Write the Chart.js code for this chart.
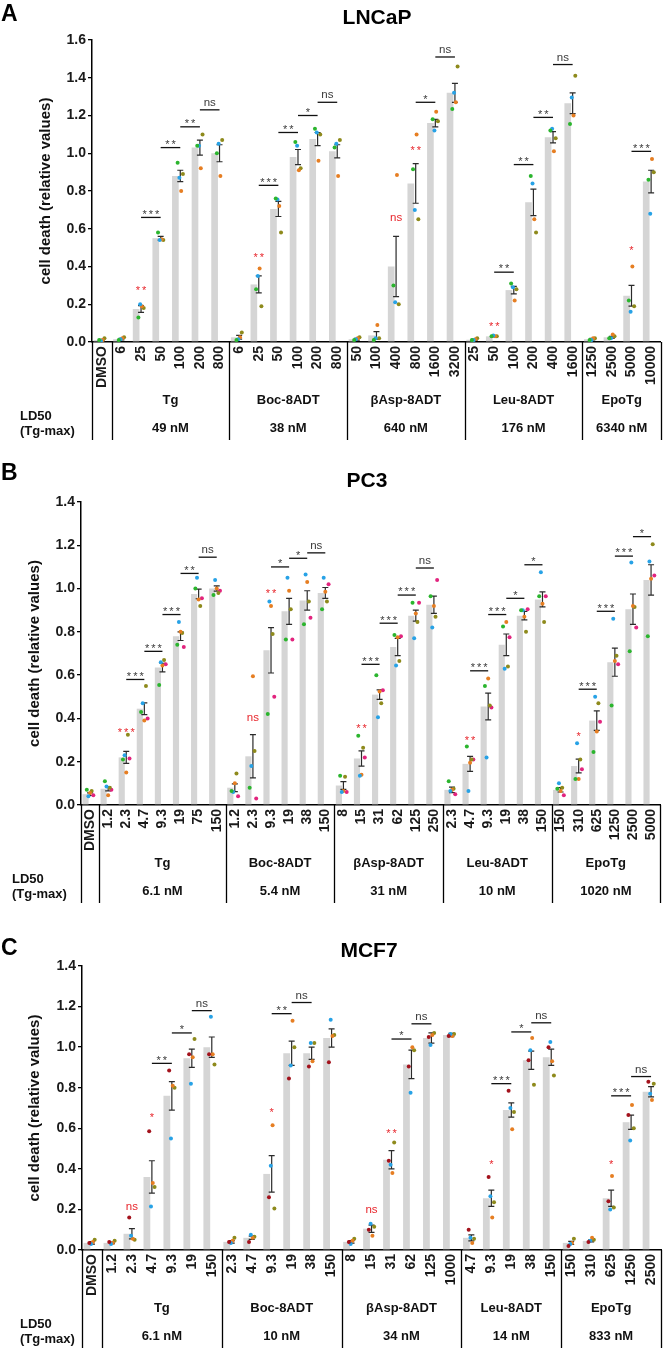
<!DOCTYPE html>
<html>
<head>
<meta charset="utf-8">
<script src="https://cdn.jsdelivr.net/npm/chart.js@4.4.1/dist/chart.umd.min.js"></script>
<style>
body{margin:0;background:#fff;}
#wrap{position:relative;width:672px;height:1350px;}
canvas{position:absolute;left:0;}
</style>
</head>
<body>
<div id="wrap">
<canvas id="cA" width="672" height="445" style="top:0px"></canvas>
<canvas id="cB" width="672" height="460" style="top:445px"></canvas>
<canvas id="cC" width="672" height="445" style="top:905px"></canvas>
</div>
<script>
// ---------- A: LNCaP ----------
const catsA = ['DMSO','6','25','50','100','200','800','6','25','50','100','200','800','50','100','400','800','1600','3200','25','50','100','200','400','1600','1250','2500','5000','10000'];
const meanA = [0.01, 0.015,0.175,0.55,0.88,1.03,1.0, 0.025,0.305,0.705,0.98,1.075,1.01, 0.015,0.035,0.40,0.84,1.16,1.32, 0.012,0.03,0.275,0.74,1.085,1.265, 0.015,0.025,0.245,0.85];
const semA = [0.004, 0.004,0.018,0.01,0.03,0.04,0.045, 0.01,0.045,0.04,0.04,0.035,0.035, 0.005,0.02,0.16,0.105,0.02,0.05, 0.003,0.003,0.02,0.07,0.03,0.055, 0.004,0.005,0.055,0.06];
const greenA = [0.01, 0.01,0.13,0.58,0.95,1.04,1.00, 0.01,0.28,0.76,1.06,1.13,1.03, 0.01,0.01,0.30,0.915,1.18,1.235, 0.01,0.03,0.31,0.88,1.12,1.155, 0.01,0.02,0.22,0.86];
const blueA = [0.005, 0.015,0.20,0.54,0.87,1.04,1.05, 0.015,0.35,0.755,1.04,1.11,1.05, 0.015,0.02,0.21,0.70,1.12,1.32, 0.01,0.035,0.29,0.84,1.13,1.295, 0.01,0.02,0.16,0.68];
const orangeA = [0.01, 0.02,0.19,0.545,0.80,0.92,0.88, 0.025,0.39,0.72,0.91,0.96,0.88, 0.02,0.09,0.885,1.10,1.22,1.27, 0.015,0.03,0.22,0.65,1.01,1.20, 0.02,0.04,0.40,0.97];
const oliveA = [0.02, 0.025,0.18,0.54,0.89,1.10,1.07, 0.05,0.19,0.58,0.92,1.10,1.07, 0.025,0.02,0.20,0.65,1.17,1.46, 0.02,0.03,0.28,0.58,1.08,1.41, 0.02,0.03,0.19,0.90];
const groupsA = ['Tg','Boc-8ADT','βAsp-8ADT','Leu-8ADT','EpoTg'];
const groupSizeA = [6,6,6,6,4];
const ld50A = ['49 nM','38 nM','640 nM','176 nM','6340 nM'];
// [from bar, to bar, height, label]
const pairSigA = [[2,3,0.66,'***'],[3,4,1.03,'**'],[4,5,1.14,'**'],[5,6,1.23,'ns'],
  [8,9,0.83,'***'],[9,10,1.11,'**'],[10,11,1.20,'*'],[11,12,1.27,'ns'],
  [16,17,1.27,'*'],[17,18,1.51,'ns'],
  [20,21,0.37,'**'],[21,22,0.94,'**'],[22,23,1.19,'**'],[23,24,1.47,'ns'],
  [27,28,1.01,'***']];
// [bar, height, label] vs DMSO
const dmsoSigA = [[2,0.29,'**'],[8,0.46,'**'],[15,0.655,'ns'],[16,1.03,'**'],[20,0.095,'**'],[27,0.50,'*']];

// ---------- B: PC3 ----------
const catsB = ['DMSO','1.2','2.3','4.7','9.3','19','75','150','1.2','2.3','9.3','19','38','150','8','15','31','62','125','250','2.3','4.7','9.3','19','38','150','150','310','625','1250','2500','5000'];
const meanB = [0.05, 0.075,0.22,0.445,0.635,0.78,0.975,1.0, 0.08,0.225,0.715,0.895,0.945,0.98, 0.09,0.215,0.51,0.73,0.875,0.925, 0.07,0.19,0.455,0.74,0.875,0.95, 0.07,0.18,0.39,0.66,0.905,1.04];
const semB = [0.006, 0.01,0.028,0.027,0.02,0.02,0.022,0.012, 0.018,0.1,0.105,0.06,0.045,0.025, 0.018,0.035,0.022,0.04,0.025,0.04, 0.013,0.035,0.062,0.05,0.02,0.035, 0.01,0.032,0.045,0.065,0.07,0.07];
const greenB = [0.07, 0.11,0.21,0.43,0.555,0.74,1.0,0.97, 0.065,0.08,0.42,0.765,0.835,0.905, 0.135,0.32,0.60,0.785,0.935,0.965, 0.11,0.27,0.55,0.825,0.90,0.965, 0.075,0.12,0.245,0.46,0.71,0.78];
const blueB = [0.04, 0.085,0.23,0.47,0.66,0.845,1.05,1.04, 0.06,0.18,0.94,1.05,1.065,1.05, 0.06,0.135,0.405,0.645,0.77,0.82, 0.065,0.065,0.22,0.63,0.90,1.075, 0.10,0.285,0.50,0.86,1.12,1.125];
const orangeB = [0.055, 0.045,0.15,0.39,0.645,0.80,0.95,1.0, 0.10,0.595,0.92,0.99,1.03,0.985, 0.065,0.14,0.525,0.775,0.885,0.92, 0.07,0.195,0.585,0.845,0.87,0.93, 0.065,0.12,0.34,0.665,0.92,1.045];
const oliveB = [0.065, 0.08,0.325,0.55,0.67,0.795,0.92,0.98, 0.145,0.25,0.79,0.905,0.94,0.94, 0.13,0.265,0.47,0.665,0.845,0.87, 0.075,0.21,0.46,0.64,0.80,0.845, 0.08,0.21,0.47,0.69,0.915,1.205];
const magentaB = [0.045, 0.07,0.215,0.40,0.65,0.73,0.955,0.99, 0.04,0.03,0.50,0.765,0.865,1.02, 0.06,0.22,0.53,0.78,0.935,1.04, 0.05,0.21,0.45,0.775,0.905,0.965, 0.045,0.165,0.385,0.65,0.82,1.06];
const groupsB = ['Tg','Boc-8ADT','βAsp-8ADT','Leu-8ADT','EpoTg'];
const groupSizeB = [7,6,6,6,6];
const ld50B = ['6.1 nM','5.4 nM','31 nM','10 nM','1020 nM'];
const pairSigB = [[2,3,0.58,'***'],[3,4,0.71,'***'],[4,5,0.88,'***'],[5,6,1.07,'**'],[6,7,1.145,'ns'],
  [10,11,1.10,'*'],[11,12,1.14,'*'],[12,13,1.165,'ns'],
  [15,16,0.65,'***'],[16,17,0.84,'***'],[17,18,0.97,'***'],[18,19,1.095,'ns'],
  [21,22,0.62,'***'],[22,23,0.88,'***'],[23,24,0.955,'*'],[24,25,1.11,'*'],
  [27,28,0.535,'***'],[28,29,0.895,'***'],[29,30,1.15,'***'],[30,31,1.24,'*']];
const dmsoSigB = [[2,0.35,'***'],[9,0.40,'ns'],[10,0.99,'**'],[15,0.365,'**'],[21,0.31,'**'],[27,0.33,'*']];

// ---------- C: MCF7 ----------
const catsC = ['DMSO','1.2','2.3','4.7','9.3','19','150','2.3','4.7','9.3','19','38','150','8','15','31','62','125','1000','4.7','9.3','19','38','150','150','310','625','1250','2500'];
const meanC = [0.035, 0.035,0.08,0.36,0.76,0.945,1.0, 0.04,0.06,0.375,0.97,0.97,1.045, 0.04,0.105,0.445,0.915,1.045,1.06, 0.06,0.255,0.69,0.935,0.95, 0.035,0.045,0.255,0.63,0.78];
const semC = [0.006, 0.004,0.025,0.08,0.07,0.045,0.05, 0.006,0.008,0.09,0.06,0.03,0.045, 0.006,0.018,0.045,0.07,0.025,0.008, 0.015,0.04,0.035,0.045,0.04, 0.008,0.005,0.04,0.035,0.025];
const darkredC = [0.035, 0.04,0.16,0.585,0.885,0.965,0.965, 0.04,0.04,0.26,0.845,0.905,0.925, 0.04,0.10,0.44,0.905,1.05,1.055, 0.10,0.36,0.785,0.935,1.0, 0.02,0.04,0.24,0.665,0.83];
const blueC = [0.03, 0.03,0.07,0.215,0.55,0.82,1.15, 0.035,0.075,0.415,0.91,1.02,1.135, 0.03,0.13,0.42,0.775,1.01,1.065, 0.06,0.265,0.70,0.985,1.025, 0.03,0.045,0.20,0.54,0.77];
const orangeC = [0.04, 0.035,0.055,0.33,0.81,0.95,0.965, 0.045,0.06,0.615,1.13,0.93,1.055, 0.045,0.07,0.38,1.0,1.06,1.055, 0.035,0.16,0.595,1.045,0.93, 0.035,0.06,0.365,0.715,0.74];
const oliveC = [0.05, 0.045,0.05,0.31,0.80,1.04,0.915, 0.06,0.065,0.205,1.0,1.02,1.06, 0.055,0.115,0.53,0.985,1.07,1.065, 0.055,0.235,0.68,0.815,0.86, 0.055,0.05,0.21,0.60,0.82];
const groupsC = ['Tg','Boc-8ADT','βAsp-8ADT','Leu-8ADT','EpoTg'];
const groupSizeC = [6,6,6,5,5];
const ld50C = ['6.1 nM','10 nM','34 nM','14 nM','833 nM'];
const pairSigC = [[3,4,0.92,'**'],[4,5,1.07,'*'],[5,6,1.18,'ns'],
  [9,10,1.165,'**'],[10,11,1.22,'ns'],
  [15,16,1.04,'*'],[16,17,1.115,'ns'],
  [20,21,0.82,'***'],[21,22,1.075,'*'],[22,23,1.12,'ns'],
  [26,27,0.76,'***'],[27,28,0.855,'ns']];
const dmsoSigC = [[2,0.21,'ns'],[3,0.665,'*'],[9,0.69,'*'],[14,0.195,'ns'],[15,0.59,'**'],[20,0.435,'*'],[26,0.435,'*']];

const FF = "'Liberation Sans', Arial, Helvetica, sans-serif";
Chart.defaults.font.family = FF;

const GREEN = '#2bb52e', BLUE = '#27a2e6', ORANGE = '#e67e22', OLIVE = '#8e8a1c', MAGENTA = '#e2247e', DARKRED = '#a3121c';

function sigLabel(ctx, lab, x, yc, color) {
  ctx.fillStyle = color;
  ctx.textAlign = 'center';
  ctx.textBaseline = 'alphabetic';
  if (lab === 'ns') {
    ctx.letterSpacing = '0px';
    ctx.font = '11.5px ' + FF;
    ctx.fillText(lab, x, yc + 3);
  } else {
    ctx.letterSpacing = '2px';
    ctx.font = '11px ' + FF;
    ctx.fillText(lab, x + 1, yc + 6.3);
  }
  ctx.letterSpacing = '0px';
}

function makeDecor(p) {
  return {
    id: 'decor',
    afterDatasetDraw(chart, args) {
      if (args.index !== 0) return;
      const ctx = chart.ctx, xs = chart.scales.x, ys = chart.scales.y;
      ctx.save();
      ctx.strokeStyle = '#2b2b2b';
      ctx.lineWidth = 1.2;
      p.mean.forEach((m, i) => {
        const x = xs.getPixelForValue(i);
        const y1 = ys.getPixelForValue(m + p.sem[i]);
        const y2 = ys.getPixelForValue(Math.max(m - p.sem[i], 0));
        ctx.beginPath();
        ctx.moveTo(x, y1); ctx.lineTo(x, y2);
        ctx.moveTo(x - 3, y1); ctx.lineTo(x + 3, y1);
        ctx.moveTo(x - 3, y2); ctx.lineTo(x + 3, y2);
        ctx.stroke();
      });
      ctx.restore();
    },
    afterDraw(chart) {
      const ctx = chart.ctx, ca = chart.chartArea;
      const xs = chart.scales.x, xd = chart.scales.xd, ys = chart.scales.y;
      ctx.save();
      // brackets between neighbouring doses
      ctx.strokeStyle = '#111';
      ctx.lineWidth = 1.3;
      p.pairs.forEach(([a, b, v, lab]) => {
        const x1 = xs.getPixelForValue(a), x2 = xs.getPixelForValue(b), y = ys.getPixelForValue(v);
        ctx.beginPath(); ctx.moveTo(x1, y); ctx.lineTo(x2, y); ctx.stroke();
        sigLabel(ctx, lab, (x1 + x2) / 2, y - (lab === 'ns' ? 7 : 6), '#3a3a3a');
      });
      // red marks vs DMSO
      p.dmso.forEach(([i, v, lab]) => sigLabel(ctx, lab, xs.getPixelForValue(i), ys.getPixelForValue(v), '#e8262c'));

      // group separators under the axis
      const edges = [0, 1];
      let k = 1;
      p.sizes.forEach(s => { k += s; edges.push(k); });
      ctx.strokeStyle = '#000';
      ctx.lineWidth = 1.3;
      edges.forEach(e => {
        const x = Math.round(xd.getPixelForValue(e - 0.5)) + 0.5;
        ctx.beginPath(); ctx.moveTo(x, ca.bottom); ctx.lineTo(x, ca.bottom + 98); ctx.stroke();
      });
      ctx.fillStyle = '#111';
      ctx.font = 'bold 13px ' + FF;
      ctx.textAlign = 'center';
      ctx.textBaseline = 'middle';
      p.groups.forEach((g, j) => {
        const xc = (xd.getPixelForValue(edges[j + 1] - 0.5) + xd.getPixelForValue(edges[j + 2] - 0.5)) / 2;
        ctx.fillText(g, xc, ca.bottom + 58);
        ctx.fillText(p.ld50[j], xc, ca.bottom + 86);
      });
      ctx.textAlign = 'left';
      ctx.fillText('LD50', p.ldX, ca.bottom + 74);
      ctx.fillText('(Tg-max)', p.ldX, ca.bottom + 89);

      // panel letter and title
      ctx.fillStyle = '#000';
      ctx.font = 'bold 23px ' + FF;
      ctx.fillText(p.letter, 1, p.letterY);
      ctx.font = 'bold 21px ' + FF;
      ctx.textAlign = 'center';
      ctx.fillText(p.title, p.titleX, p.titleY);
      ctx.restore();
    }
  };
}

function drawPanel(id, p) {
  const N = p.cats.length;
  const datasets = [{
    type: 'bar', data: p.mean, backgroundColor: '#d5d5d5',
    barPercentage: 0.68, categoryPercentage: 1, xAxisID: 'x', yAxisID: 'y', order: 2
  }];
  p.reps.forEach((vals, r) => {
    const off = (r - (p.reps.length - 1) / 2) * 0.09;
    datasets.push({
      type: 'scatter', xAxisID: 'xd', yAxisID: 'y', order: 1,
      data: vals.map((v, i) => ({x: i + off, y: v})),
      pointRadius: 2, pointHoverRadius: 2, pointBackgroundColor: p.colors[r], pointBorderWidth: 0
    });
  });
  return new Chart(document.getElementById(id), {
    type: 'bar',
    data: {labels: p.cats, datasets: datasets},
    options: {
      responsive: false,
      animation: false,
      devicePixelRatio: 1,
      layout: {padding: p.pad},
      plugins: {legend: {display: false}, tooltip: {enabled: false}},
      scales: {
        x: {
          type: 'category', offset: true,
          grid: {display: false, drawTicks: false},
          border: {color: '#000', width: 1.5},
          ticks: {autoSkip: false, minRotation: 90, maxRotation: 90, padding: 4, color: '#1a1a1a', font: {size: 14, weight: 'bold'}},
          afterFit: s => { s.height = 50; }
        },
        xd: {type: 'linear', display: false, offset: false, grid: {offset: false}, min: -0.5, max: N - 0.5, bounds: 'data'},
        y: {
          min: 0, max: p.yMax,
          grid: {drawOnChartArea: false, tickLength: 4, color: '#000', lineWidth: 1.3},
          border: {color: '#000', width: 1.5},
          ticks: {stepSize: 0.2, padding: 2, color: '#1a1a1a', font: {size: 14, weight: 'bold'}, callback: v => v.toFixed(1)},
          title: {display: true, text: 'cell death (relative values)', color: '#111', font: {size: 15, weight: 'bold'}, padding: {top: 4, bottom: 4}},
          afterFit: s => { s.width = p.yWidth; }
        }
      }
    },
    plugins: [makeDecor(p)]
  });
}

drawPanel('cA', {
  cats: catsA, mean: meanA, sem: semA, reps: [greenA, blueA, orangeA, oliveA], colors: [GREEN, BLUE, ORANGE, OLIVE],
  groups: groupsA, sizes: groupSizeA, ld50: ld50A, pairs: pairSigA, dmso: dmsoSigA,
  yMax: 1.6, pad: {top: 40, bottom: 53, left: 33, right: 5}, yWidth: 59,
  letter: 'A', letterY: 15, title: 'LNCaP', titleX: 377, titleY: 18, ldX: 20
});
drawPanel('cB', {
  cats: catsB, mean: meanB, sem: semB, reps: [greenB, blueB, orangeB, oliveB, magentaB], colors: [GREEN, BLUE, ORANGE, OLIVE, MAGENTA],
  groups: groupsB, sizes: groupSizeB, ld50: ld50B, pairs: pairSigB, dmso: dmsoSigB,
  yMax: 1.4, pad: {top: 57, bottom: 50, left: 22, right: 9}, yWidth: 59,
  letter: 'B', letterY: 29, title: 'PC3', titleX: 367, titleY: 36, ldX: 12
});
drawPanel('cC', {
  cats: catsC, mean: meanC, sem: semC, reps: [darkredC, blueC, orangeC, oliveC], colors: [DARKRED, BLUE, ORANGE, OLIVE],
  groups: groupsC, sizes: groupSizeC, ld50: ld50C, pairs: pairSigC, dmso: dmsoSigC,
  yMax: 1.4, pad: {top: 61, bottom: 50, left: 22, right: 8}, yWidth: 60,
  letter: 'C', letterY: 44, title: 'MCF7', titleX: 369, titleY: 46, ldX: 20
});
</script>
</body>
</html>
